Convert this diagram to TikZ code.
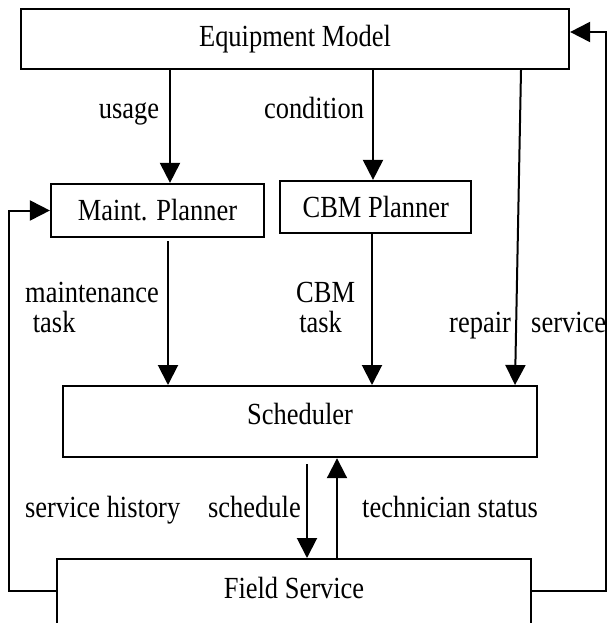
\documentclass[tikz,border=0pt]{standalone}
\usepackage{fontspec}
\setmainfont[FakeStretch=0.862]{Liberation Serif}
\usetikzlibrary{arrows.meta}
\begin{document}
\begin{tikzpicture}[x=1pt,y=-1pt,
  every node/.style={font=\fontsize{30.7}{30}\selectfont},
  box/.style={draw,line width=2.2pt,inner sep=0pt},
  arr/.style={line width=2pt,-{Triangle[length=20pt,width=20pt]}},
  lbl/.style={inner sep=0pt,anchor=base west}]
\useasboundingbox (0,0) rectangle (607,623);
\clip (0,0) rectangle (607,623);
% boxes
\node[box,minimum width=548pt,minimum height=60pt] (EM) at (295,39) {Equipment Model};
\node[box,minimum width=213pt,minimum height=53pt] (M) at (157.5,210.5) {Maint. Planner};
\node[box,minimum width=191pt,minimum height=52pt] (C) at (375.75,207) {CBM Planner};
\node[box,minimum width=474pt,anchor=north,text height=20pt,text depth=14pt,inner ysep=18.5pt] (S) at (300,385) {Scheduler};
\node[box,minimum width=474pt,anchor=north,text height=20pt,text depth=50pt,inner ysep=19pt] (F) at (294,558) {Field Service};
% arrows
\draw[arr] (170,0 |- EM.south) -- (170,0 |- M.north);
\draw[arr] (373,0 |- EM.south) -- (373,0 |- C.north);
\draw[arr] (521,0 |- EM.south) -- (515,0 |- S.north);
\draw[arr] ([yshift=-3pt]168,0 |- M.south) -- (168,0 |- S.north);
\draw[arr] (372,0 |- C.south) -- (372,0 |- S.north);
\draw[arr] ([yshift=-6pt]307,0 |- S.south) -- (307,0 |- F.north);
\draw[arr] (337,0 |- F.north) -- (337,0 |- S.south);
\coordinate (lx) at (8.5,0);
\coordinate (rx) at (605.5,32);
\draw[arr] (F.west |- 0,591) -| (lx |- M.west) -- (M.west);
\draw[arr] (F.east |- 0,591) -| (rx) -- (EM.east |- rx);
% labels
\node[inner sep=0pt,anchor=base] (lu) at (129,118) {usage};
\node[inner sep=0pt,anchor=base] (lc) at (314,118) {condition};
\node[lbl,align=left] (lm) at (25,332) {maintenance\\\hspace{0.25em}task};
\node[lbl,align=left] (lcb) at (296,332) {CBM\\\hspace{0.1em}task};
\node[lbl] (lr) at (449,332) {repair};
\node[lbl] (ls) at (531,332) {service};
\node[lbl] (lsh) at (25,517) {service history};
\node[lbl] (lsc) at (208,517) {schedule};
\node[lbl] (lts) at (362,517) {technician status};
\end{tikzpicture}
\end{document}
